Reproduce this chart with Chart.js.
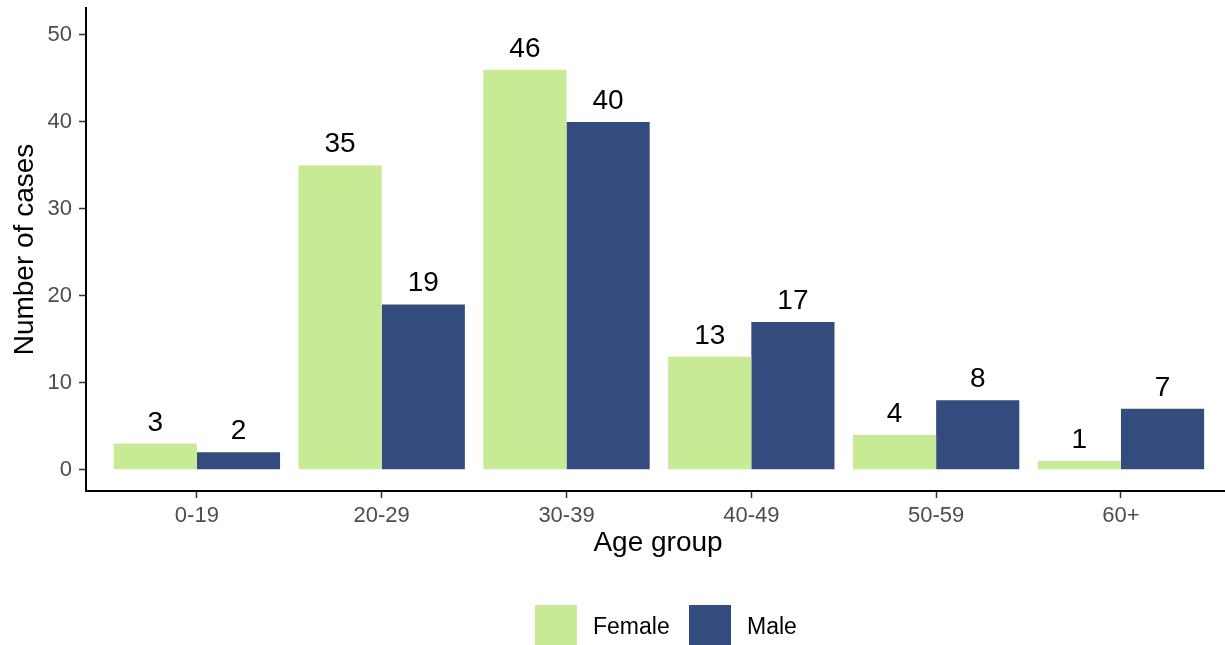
<!DOCTYPE html>
<html lang="en">
<head>
    <meta charset="UTF-8">
    <title>Cases by age group and sex</title>
    <script src="https://cdn.jsdelivr.net/npm/chart.js"></script>
    <style>
        body { margin: 0; background: #fff; font-family: 'Liberation Sans', Arial, sans-serif; }
        #wrap { width: 1225px; height: 645px; position: relative; }
    </style>
</head>
<body>
    <div id="wrap"><canvas id="ageChart"></canvas></div>

    <script>
        // data
        const ageGroups = ['0-19', '20-29', '30-39', '40-49', '50-59', '60+'];
        const femaleCases = [3, 35, 46, 13, 4, 1];
        const maleCases = [2, 19, 40, 17, 8, 7];
        const yTicks = [0, 10, 20, 30, 40, 50];

        const FONT = "'Liberation Sans', Arial, sans-serif";
        const femaleColor = '#c7eb95';
        const maleColor = '#344b7e';

        const toPoints = arr => arr.map((v, i) => ({ x: i, y: v }));

        // value labels above bars + axis titles + legend
        const extras = {
            id: 'extras',
            afterDatasetsDraw(chart) {
                const ctx = chart.ctx;
                ctx.save();
                ctx.font = '28px ' + FONT;
                ctx.fillStyle = '#000';
                ctx.textAlign = 'center';
                ctx.textBaseline = 'alphabetic';
                chart.data.datasets.forEach((ds, di) => {
                    chart.getDatasetMeta(di).data.forEach((bar, i) => {
                        ctx.fillText(String(ds.data[i].y), bar.x, bar.y - 13);
                    });
                });
                ctx.restore();
            },
            afterDraw(chart) {
                const ctx = chart.ctx;
                const area = chart.chartArea;
                ctx.save();
                ctx.fillStyle = '#000';
                ctx.font = '28px ' + FONT;
                ctx.textAlign = 'center';
                ctx.textBaseline = 'alphabetic';
                ctx.fillText('Age group', 658, 551);

                ctx.translate(33, (area.top + area.bottom) / 2);
                ctx.rotate(-Math.PI / 2);
                ctx.fillText('Number of cases', 0, 0);
                ctx.restore();

                // legend
                ctx.save();
                ctx.font = '23px ' + FONT;
                ctx.textAlign = 'left';
                ctx.textBaseline = 'middle';
                const keyX = [535, 689];
                chart.data.datasets.forEach((ds, di) => {
                    ctx.fillStyle = ds.backgroundColor;
                    ctx.fillRect(keyX[di], 605, 42, 42);
                    ctx.fillStyle = '#000';
                    ctx.fillText(ds.label, keyX[di] + 58, 628);
                });
                ctx.restore();
            }
        };

        new Chart(document.getElementById('ageChart'), {
            type: 'bar',
            data: {
                datasets: [
                    { label: 'Female', data: toPoints(femaleCases), backgroundColor: femaleColor },
                    { label: 'Male', data: toPoints(maleCases), backgroundColor: maleColor }
                ]
            },
            options: {
                responsive: true,
                maintainAspectRatio: false,
                animation: false,
                layout: { padding: { top: 8, left: 0, right: 0, bottom: 0 } },
                datasets: { bar: { categoryPercentage: 0.9, barPercentage: 1.0 } },
                plugins: { legend: { display: false }, tooltip: { enabled: false } },
                scales: {
                    x: {
                        type: 'linear',
                        offset: false,
                        min: -0.6,
                        max: 5.563,
                        afterFit: s => { s.height = 154; s.paddingLeft = 0; s.paddingRight = 0; },
                        afterBuildTicks: s => { s.ticks = ageGroups.map((c, i) => ({ value: i })); },
                        border: { display: true, color: '#000', width: 2 },
                        grid: { offset: false, drawOnChartArea: false, drawTicks: true, tickLength: 7, color: '#333', tickWidth: 1.5 },
                        ticks: {
                            color: '#4d4d4d',
                            font: { family: FONT, size: 22 },
                            padding: 5,
                            maxRotation: 0,
                            autoSkip: false,
                            callback: v => ageGroups[v]
                        }
                    },
                    y: {
                        min: -2.45,
                        max: 53.1,
                        afterFit: s => { s.width = 86; s.paddingTop = 0; s.paddingBottom = 0; },
                        afterBuildTicks: s => { s.ticks = yTicks.map(v => ({ value: v })); },
                        border: { display: true, color: '#000', width: 2 },
                        grid: { drawOnChartArea: false, drawTicks: true, tickLength: 7, color: '#333', tickWidth: 1.5 },
                        ticks: {
                            color: '#4d4d4d',
                            font: { family: FONT, size: 22 },
                            padding: 7
                        }
                    }
                }
            },
            plugins: [extras]
        });
    </script>
</body>
</html>
